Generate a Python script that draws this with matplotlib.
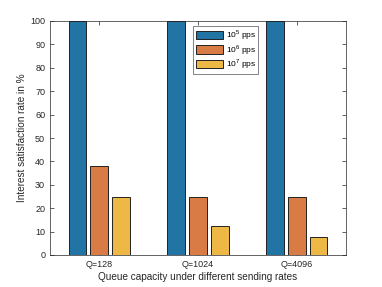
import matplotlib.pyplot as plt
import numpy as np

plt.rcParams['font.family'] = ['Liberation Sans', 'DejaVu Sans']
plt.rcParams['mathtext.fontset'] = 'custom'
plt.rcParams['mathtext.rm'] = 'Liberation Sans'

groups = ['Q=128', 'Q=1024', 'Q=4096']
series = ['$10^5$ pps', '$10^6$ pps', '$10^7$ pps']
rate_1e5 = [100, 100, 100]
rate_1e6 = [38, 25, 25]
rate_1e7 = [25, 12.5, 7.5]
colors = ['#2274A5', '#D97B45', '#EDB846']

fig = plt.figure(figsize=(3.82, 2.87), dpi=100)
ax = fig.add_axes([50 / 382, 1 - 255 / 287, 296 / 382, 234 / 287])

x = np.arange(1, len(groups) + 1)
w = 0.18
off = 0.222
for i, (vals, lab) in enumerate(zip([rate_1e5, rate_1e6, rate_1e7], series)):
    ax.bar(x + (i - 1) * off, vals, w, color=colors[i], edgecolor='#222222',
           linewidth=0.7, label=lab, zorder=3)

ax.set_xlim(0.5, 3.5)
ax.set_ylim(0, 100)
ax.set_yticks(np.arange(0, 101, 10))
ax.set_xticks(x)
ax.set_xticklabels(groups)
ax.tick_params(direction='in', top=True, right=True, labelsize=6.5,
               colors='#262626', length=3, width=0.5)
for s in ax.spines.values():
    s.set_color('#262626')
    s.set_linewidth(0.5)
ax.set_ylabel('Interest satisfaction rate in %', fontsize=7.2, color='#262626', labelpad=2)
ax.set_xlabel('Queue capacity under different sending rates', fontsize=7.2, color='#262626', labelpad=2.5)

leg = ax.legend(loc='upper left', bbox_to_anchor=(143 / 296, 1 - 5 / 234), fontsize=6,
                frameon=True, fancybox=False, edgecolor='#262626', handlelength=3.3,
                handleheight=1.2, labelspacing=0.05, borderpad=0.3, handletextpad=0.3,
                borderaxespad=0)
leg.get_frame().set_linewidth(0.5)

fig.savefig('out.png', dpi=100)
